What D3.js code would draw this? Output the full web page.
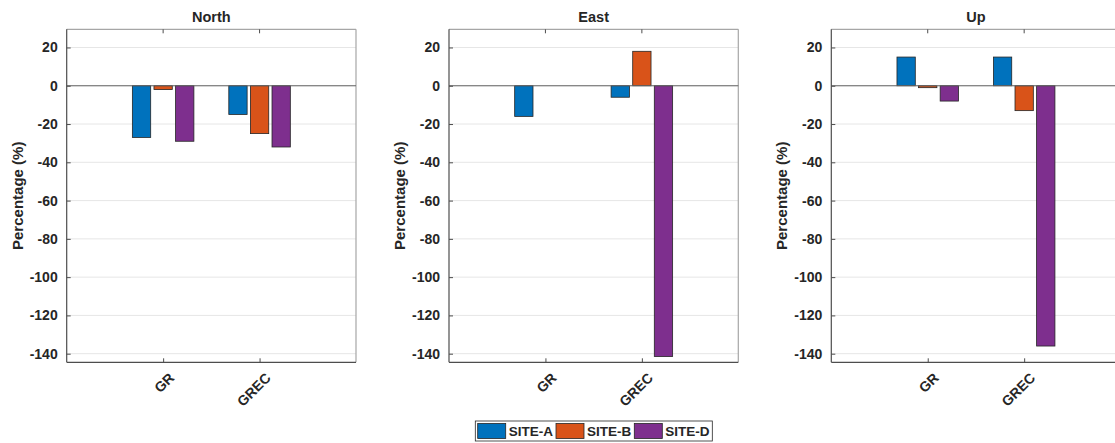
<!DOCTYPE html>
<html>
<head>
<meta charset="utf-8">
<script src="https://cdn.jsdelivr.net/npm/d3@7"></script>
<style>
  body { margin: 0; background: #fff; }
  svg { display: block; }
  text { font-family: "Liberation Sans", Arial, sans-serif; font-weight: bold; fill: #262626; }
</style>
</head>
<body>
<svg id="chart" width="1115" height="443"></svg>
<script>
// ---- Data ----
const panels = ["North", "East", "Up"];
const categories = ["GR", "GREC"];
const seriesNames = ["SITE-A", "SITE-B", "SITE-D"];
const seriesColors = ["#0072BD", "#D95319", "#7E2F8E"];
// values[panel][series][category]
const northValues = [[-27, -15], [-2, -25], [-29, -32]];
const eastValues  = [[-16, -6], [0, 18], [0, -141.5]];
const upValues    = [[15, 15], [-1, -13], [-8, -136]];
const panelValues = [northValues, eastValues, upValues];
const yTicks = [-140, -120, -100, -80, -60, -40, -20, 0, 20];
const yLabel = "Percentage (%)";

// ---- Layout ----
const svg = d3.select("#chart");
const axW = 289.3, axTop = 29.3, axBottom = 362.3;
const axLefts = [66.7, 449, 831.3];
const groupOffsets = [-0.224, 0, 0.224];  // in category units
const barWidthUnits = 0.19;
const FONT = '"Liberation Sans", Arial, sans-serif';

panels.forEach((name, pi) => {
  const x0 = axLefts[pi];
  const x = d3.scaleLinear().domain([0, 3]).range([x0, x0 + axW]);
  const y = d3.scaleLinear().domain([-144.5, 29.5]).range([axBottom, axTop]);
  const g = svg.append("g");

  // grid
  g.selectAll("line.grid").data(yTicks).join("line")
    .attr("x1", x0).attr("x2", x0 + axW)
    .attr("y1", d => y(d)).attr("y2", d => y(d))
    .attr("stroke", "#e6e6e6").attr("stroke-width", 1);

  // box (top/right lighter)
  g.append("line").attr("x1", x0).attr("x2", x0 + axW).attr("y1", axTop).attr("y2", axTop)
    .attr("stroke", "#a6a6a6").attr("stroke-width", 1.2);
  g.append("line").attr("x1", x0 + axW).attr("x2", x0 + axW).attr("y1", axTop).attr("y2", axBottom)
    .attr("stroke", "#a6a6a6").attr("stroke-width", 1.2);

  // bars
  const vals = panelValues[pi];
  const bw = x(barWidthUnits) - x(0);
  vals.forEach((series, si) => {
    g.selectAll("rect.s" + si).data(series).join("rect")
      .attr("x", (d, ci) => x(ci + 1 + groupOffsets[si]) - bw / 2)
      .attr("width", bw)
      .attr("y", d => y(Math.max(0, d)))
      .attr("height", d => Math.abs(y(d) - y(0)))
      .attr("fill", seriesColors[si])
      .attr("stroke", "#262626").attr("stroke-width", 0.8);
  });

  // zero baseline
  g.append("line").attr("x1", x0).attr("x2", x0 + axW).attr("y1", y(0)).attr("y2", y(0))
    .attr("stroke", "#666").attr("stroke-width", 1);

  // y axis
  const yAxis = d3.axisLeft(y).tickValues(yTicks).tickSize(-4).tickPadding(9).tickFormat(d => String(d));
  const ya = g.append("g").attr("transform", `translate(${x0},0)`).call(yAxis);
  ya.select(".domain").attr("stroke", "#4d4d4d").attr("stroke-width", 1.2).attr("d", `M0,${axTop}V${axBottom}`);
  ya.selectAll(".tick line").attr("stroke", "#4d4d4d");
  ya.selectAll(".tick text").style("font-size", "14px").style("font-weight", "bold")
    .attr("fill", "#262626").style("font-family", FONT);

  // x axis
  const xAxis = d3.axisBottom(x).tickValues([1, 2]).tickSize(-4).tickFormat((d) => categories[d - 1]);
  const xa = g.append("g").attr("transform", `translate(0,${axBottom})`).call(xAxis);
  xa.select(".domain").attr("stroke", "#4d4d4d").attr("stroke-width", 1.2).attr("d", `M${x0},0H${x0 + axW}`);
  xa.selectAll(".tick line").attr("stroke", "#4d4d4d");
  xa.selectAll(".tick text")
    .style("font-size", "14px").style("font-weight", "bold")
    .style("font-family", FONT)
    .attr("fill", "#262626")
    .attr("text-anchor", "end")
    .attr("dy", "0.35em")
    .attr("y", 0)
    .attr("transform", "translate(8,13) rotate(-45)");
  // top ticks
  g.selectAll("line.ttick").data([1, 2]).join("line")
    .attr("x1", d => x(d)).attr("x2", d => x(d)).attr("y1", axTop).attr("y2", axTop + 4)
    .attr("stroke", "#4d4d4d");

  // title
  g.append("text").attr("x", x0 + axW / 2).attr("y", 22).attr("text-anchor", "middle")
    .style("font-size", "14.5px").text(name);

  // y label
  g.append("text")
    .attr("transform", `translate(${x0 - 44},${(axTop + axBottom) / 2}) rotate(-90)`)
    .attr("text-anchor", "middle")
    .style("font-size", "15px").text(yLabel);
});

// ---- Legend ----
const lg = svg.append("g");
const lx = 475.3, ly = 421, lw = 237, lh = 20;
lg.append("rect").attr("x", lx).attr("y", ly).attr("width", lw).attr("height", lh)
  .attr("fill", "#fff").attr("stroke", "#262626").attr("stroke-width", 0.8);
const itemX = [477.7, 556, 634.3];
seriesNames.forEach((s, i) => {
  lg.append("rect").attr("x", itemX[i]).attr("y", ly + 2.5).attr("width", 28).attr("height", 15)
    .attr("fill", seriesColors[i]).attr("stroke", "#262626").attr("stroke-width", 0.8);
  lg.append("text").attr("x", itemX[i] + 31).attr("y", ly + 15)
    .style("font-size", "13.5px").text(s);
});
</script>
</body>
</html>
